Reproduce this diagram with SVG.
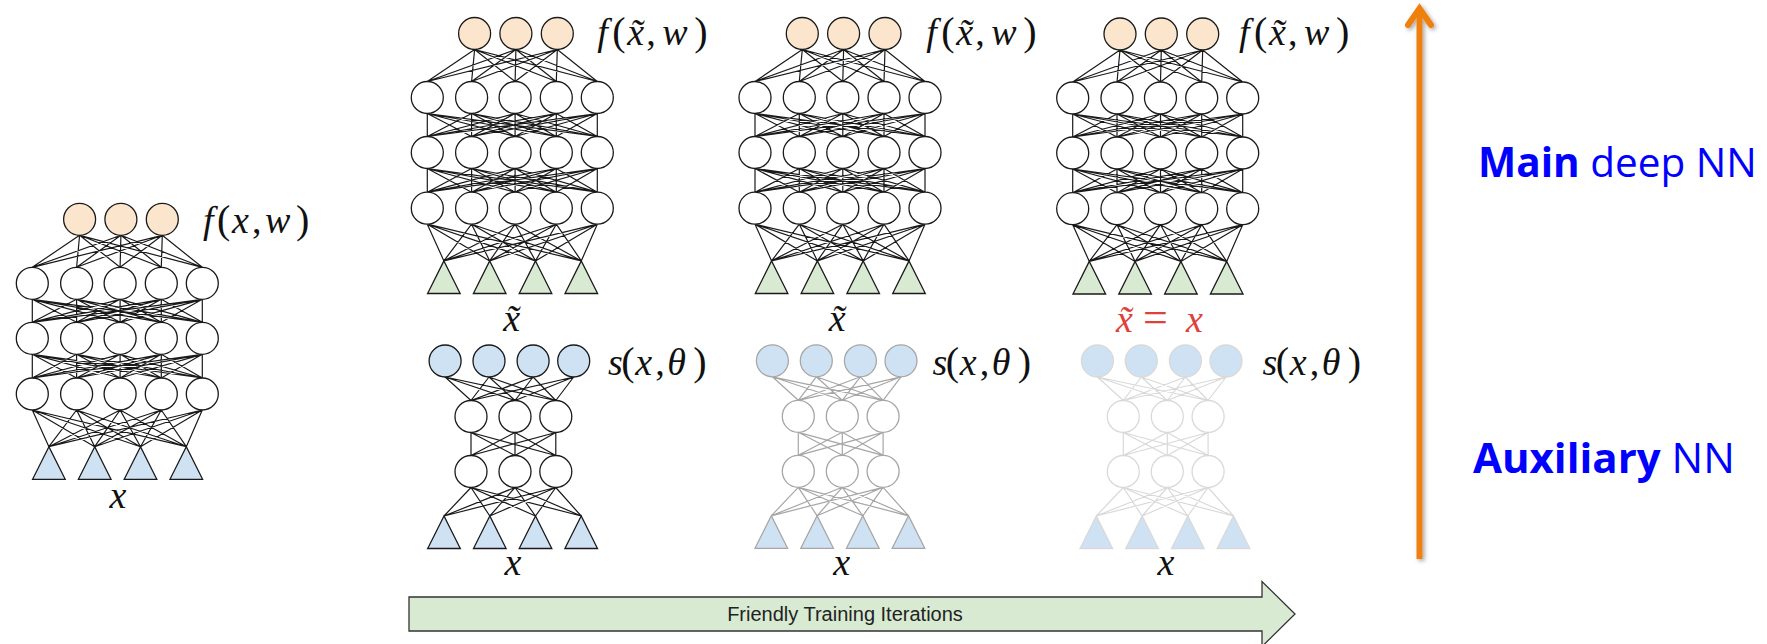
<svg xmlns="http://www.w3.org/2000/svg" width="1767" height="644" viewBox="0 0 1767 644">
<style>
.m{font-family:"Liberation Serif",serif;font-size:38px;fill:#111}
.i{font-style:italic}
.p{font-size:40px}
.eq{font-size:44px}
.red{fill:#e0403a}
.side{font-family:"Open Sans","Noto Sans",sans-serif;fill:#0000ff}
.b{font-weight:bold}
.lbl{font-family:"Liberation Sans",Arial,sans-serif;font-size:20px;fill:#222}
</style>
<defs>
<filter id="shadow" x="-50%" y="-5%" width="200%" height="110%">
<feDropShadow dx="2" dy="2" stdDeviation="2" flood-color="#000" flood-opacity="0.35"/>
</filter>
<symbol id="main-edges" overflow="visible">
<path fill="none" d="M47.3-48L0-16M47.3-48L44.3-16M47.3-48L87.8-16M47.3-48L129-16M47.3-48L170-16M88.6-48L0-16M88.6-48L44.3-16M88.6-48L87.8-16M88.6-48L129-16M88.6-48L170-16M130-48L0-16M130-48L44.3-16M130-48L87.8-16M130-48L129-16M130-48L170-16"/>
<path fill="none" d="M0 16L0 39M0 16L44.3 39M0 16L87.8 39M0 16L129 39M0 16L170 39M44.3 16L0 39M44.3 16L44.3 39M44.3 16L87.8 39M44.3 16L129 39M44.3 16L170 39M87.8 16L0 39M87.8 16L44.3 39M87.8 16L87.8 39M87.8 16L129 39M87.8 16L170 39M129 16L0 39M129 16L44.3 39M129 16L87.8 39M129 16L129 39M129 16L170 39M170 16L0 39M170 16L44.3 39M170 16L87.8 39M170 16L129 39M170 16L170 39"/>
<path fill="none" d="M0 71L0 94.7M0 71L44.3 94.7M0 71L87.8 94.7M0 71L129 94.7M0 71L170 94.7M44.3 71L0 94.7M44.3 71L44.3 94.7M44.3 71L87.8 94.7M44.3 71L129 94.7M44.3 71L170 94.7M87.8 71L0 94.7M87.8 71L44.3 94.7M87.8 71L87.8 94.7M87.8 71L129 94.7M87.8 71L170 94.7M129 71L0 94.7M129 71L44.3 94.7M129 71L87.8 94.7M129 71L129 94.7M129 71L170 94.7M170 71L0 94.7M170 71L44.3 94.7M170 71L87.8 94.7M170 71L129 94.7M170 71L170 94.7"/>
<path fill="none" d="M0 126.7L16.6 163.4M0 126.7L62.4 163.4M0 126.7L108.2 163.4M0 126.7L154 163.4M44.3 126.7L16.6 163.4M44.3 126.7L62.4 163.4M44.3 126.7L108.2 163.4M44.3 126.7L154 163.4M87.8 126.7L16.6 163.4M87.8 126.7L62.4 163.4M87.8 126.7L108.2 163.4M87.8 126.7L154 163.4M129 126.7L16.6 163.4M129 126.7L62.4 163.4M129 126.7L108.2 163.4M129 126.7L154 163.4M170 126.7L16.6 163.4M170 126.7L62.4 163.4M170 126.7L108.2 163.4M170 126.7L154 163.4"/>
</symbol>
<symbol id="main-nodes" overflow="visible">
<circle cx="47.3" cy="-64" r="16" fill="#fce5cd"/>
<circle cx="88.6" cy="-64" r="16" fill="#fce5cd"/>
<circle cx="130" cy="-64" r="16" fill="#fce5cd"/>
<circle cx="0" cy="0" r="16" fill="#fff"/>
<circle cx="44.3" cy="0" r="16" fill="#fff"/>
<circle cx="87.8" cy="0" r="16" fill="#fff"/>
<circle cx="129" cy="0" r="16" fill="#fff"/>
<circle cx="170" cy="0" r="16" fill="#fff"/>
<circle cx="0" cy="55" r="16" fill="#fff"/>
<circle cx="44.3" cy="55" r="16" fill="#fff"/>
<circle cx="87.8" cy="55" r="16" fill="#fff"/>
<circle cx="129" cy="55" r="16" fill="#fff"/>
<circle cx="170" cy="55" r="16" fill="#fff"/>
<circle cx="0" cy="110.7" r="16" fill="#fff"/>
<circle cx="44.3" cy="110.7" r="16" fill="#fff"/>
<circle cx="87.8" cy="110.7" r="16" fill="#fff"/>
<circle cx="129" cy="110.7" r="16" fill="#fff"/>
<circle cx="170" cy="110.7" r="16" fill="#fff"/>
<polygon points="16.6,163.4 0.3,196 32.9,196" fill="currentColor"/>
<polygon points="62.4,163.4 46.1,196 78.7,196" fill="currentColor"/>
<polygon points="108.2,163.4 91.9,196 124.5,196" fill="currentColor"/>
<polygon points="154,163.4 137.7,196 170.3,196" fill="currentColor"/>
</symbol>
<symbol id="aux-edges" overflow="visible">
<path fill="none" d="M-25.9-39.5L0-16M-25.9-39.5L44-16M-25.9-39.5L84.8-16M18-39.5L0-16M18-39.5L44-16M18-39.5L84.8-16M62.1-39.5L0-16M62.1-39.5L44-16M62.1-39.5L84.8-16M102.7-39.5L0-16M102.7-39.5L44-16M102.7-39.5L84.8-16"/>
<path fill="none" d="M0 16L0 39M0 16L44 39M0 16L84.8 39M44 16L0 39M44 16L44 39M44 16L84.8 39M84.8 16L0 39M84.8 16L44 39M84.8 16L84.8 39"/>
<path fill="none" d="M0 71L-27 99.5M0 71L18.8 99.5M0 71L64.5 99.5M0 71L110.2 99.5M44 71L-27 99.5M44 71L18.8 99.5M44 71L64.5 99.5M44 71L110.2 99.5M84.8 71L-27 99.5M84.8 71L18.8 99.5M84.8 71L64.5 99.5M84.8 71L110.2 99.5"/>
</symbol>
<symbol id="aux-nodes" overflow="visible">
<circle cx="-25.9" cy="-55.5" r="16" fill="#cfe2f3"/>
<circle cx="18" cy="-55.5" r="16" fill="#cfe2f3"/>
<circle cx="62.1" cy="-55.5" r="16" fill="#cfe2f3"/>
<circle cx="102.7" cy="-55.5" r="16" fill="#cfe2f3"/>
<circle cx="0" cy="0" r="16" fill="#fff"/>
<circle cx="44" cy="0" r="16" fill="#fff"/>
<circle cx="84.8" cy="0" r="16" fill="#fff"/>
<circle cx="0" cy="55" r="16" fill="#fff"/>
<circle cx="44" cy="55" r="16" fill="#fff"/>
<circle cx="84.8" cy="55" r="16" fill="#fff"/>
<polygon points="-27,99.5 -43.3,132 -10.7,132" fill="#cfe2f3"/>
<polygon points="18.8,99.5 2.5,132 35.1,132" fill="#cfe2f3"/>
<polygon points="64.5,99.5 48.2,132 80.8,132" fill="#cfe2f3"/>
<polygon points="110.2,99.5 93.9,132 126.5,132" fill="#cfe2f3"/>
</symbol>
</defs>
<rect width="1767" height="644" fill="#fff"/>

<g id="connectors" stroke-width="1.2">
<use href="#main-edges" x="32.3" y="283.3" stroke="#1a1a1a"/>
<use href="#main-edges" x="427.3" y="97.5" stroke="#1a1a1a"/>
<use href="#main-edges" x="755" y="97.5" stroke="#1a1a1a"/>
<use href="#main-edges" x="1072.7" y="98" stroke="#1a1a1a"/>
<use href="#aux-edges" x="471" y="416.5" stroke="#1a1a1a"/>
<use href="#aux-edges" x="798.3" y="416.3" stroke="#a6a6a6"/>
<use href="#aux-edges" x="1123.3" y="416.5" stroke="#d9d9d9"/>
</g>

<g id="net-standalone" stroke-width="1.3">
<use href="#main-nodes" x="32.3" y="283.3" stroke="#1a1a1a" color="#cfe2f3"/>
<text class="m" y="233"><tspan class="i" x="203">f</tspan><tspan class="p" x="217">(</tspan><tspan class="i" x="232">x</tspan><tspan x="252">,</tspan><tspan class="i" x="265">w</tspan><tspan class="p" x="296">)</tspan></text>
<text class="m i" x="118" y="508" text-anchor="middle">x</text>
</g>

<g id="main-net-1" stroke-width="1.3">
<use href="#main-nodes" x="427.3" y="97.5" stroke="#1a1a1a" color="#d9ead3"/>
<text class="m" y="44.5"><tspan class="i" x="597.3">f</tspan><tspan class="p" x="612.3">(</tspan><tspan class="i" x="627.3">x&#x303;</tspan><tspan x="646.3">,</tspan><tspan class="i" x="662.3">w</tspan><tspan class="p" x="694.3">)</tspan></text>
<text class="m i" x="511.7" y="331" text-anchor="middle">x&#x303;</text>
</g>

<g id="main-net-2" stroke-width="1.3">
<use href="#main-nodes" x="755" y="97.5" stroke="#1a1a1a" color="#d9ead3"/>
<text class="m" y="44.5"><tspan class="i" x="926.3">f</tspan><tspan class="p" x="941.3">(</tspan><tspan class="i" x="956.3">x&#x303;</tspan><tspan x="975.3">,</tspan><tspan class="i" x="991.3">w</tspan><tspan class="p" x="1023.3">)</tspan></text>
<text class="m i" x="837.3" y="331" text-anchor="middle">x&#x303;</text>
</g>

<g id="main-net-3" stroke-width="1.3">
<use href="#main-nodes" x="1072.7" y="98" stroke="#1a1a1a" color="#d9ead3"/>
<text class="m" y="44.5"><tspan class="i" x="1239">f</tspan><tspan class="p" x="1254">(</tspan><tspan class="i" x="1269">x&#x303;</tspan><tspan x="1288">,</tspan><tspan class="i" x="1304">w</tspan><tspan class="p" x="1336">)</tspan></text>
<text class="m red" y="332"><tspan class="i" x="1116">x&#x303;</tspan><tspan class="eq" x="1143">=</tspan><tspan class="i" x="1186">x</tspan></text>
</g>

<g id="aux-net-1" stroke-width="1.3">
<use href="#aux-nodes" x="471" y="416.5" stroke="#1a1a1a"/>
<text class="m" y="375"><tspan class="i" x="608">s</tspan><tspan class="p" x="621.3">(</tspan><tspan class="i" x="635.3">x</tspan><tspan x="655.3">,</tspan><tspan class="i" x="667.3">θ</tspan><tspan class="p" x="693.3">)</tspan></text>
<text class="m i" x="513" y="575" text-anchor="middle">x</text>
</g>

<g id="aux-net-2" stroke-width="1.3">
<use href="#aux-nodes" x="798.3" y="416.3" stroke="#a6a6a6"/>
<text class="m" y="375"><tspan class="i" x="932.4">s</tspan><tspan class="p" x="945.7">(</tspan><tspan class="i" x="959.7">x</tspan><tspan x="979.7">,</tspan><tspan class="i" x="991.7">θ</tspan><tspan class="p" x="1017.7">)</tspan></text>
<text class="m i" x="841.7" y="575" text-anchor="middle">x</text>
</g>

<g id="aux-net-3" stroke-width="1.3">
<use href="#aux-nodes" x="1123.3" y="416.5" stroke="#d9d9d9"/>
<text class="m" y="375"><tspan class="i" x="1262.4">s</tspan><tspan class="p" x="1275.7">(</tspan><tspan class="i" x="1289.7">x</tspan><tspan x="1309.7">,</tspan><tspan class="i" x="1321.7">θ</tspan><tspan class="p" x="1347.7">)</tspan></text>
<text class="m i" x="1166" y="575" text-anchor="middle">x</text>
</g>

<g id="training-arrow">
<polygon points="409,597 1262,597 1262,581.5 1295,614 1262,646.5 1262,631 409,631" fill="#d9ead3" stroke="#333" stroke-width="1.3"/>
<text class="lbl" x="845" y="621" text-anchor="middle">Friendly Training Iterations</text>
</g>

<g id="depth-arrow" filter="url(#shadow)">
<line x1="1419.5" y1="559" x2="1419.5" y2="12" stroke="#ef8010" stroke-width="6"/>
<polyline points="1408,25 1419.5,8.5 1431,25" fill="none" stroke="#ef8010" stroke-width="6" stroke-linecap="round" stroke-linejoin="miter"/>
</g>

<g id="side-labels">
<text class="side" x="1478" y="177" font-size="40.5"><tspan class="b">Main</tspan> deep NN</text>
<text class="side" x="1473" y="473" font-size="42"><tspan class="b">Auxiliary</tspan> NN</text>
</g>
</svg>
